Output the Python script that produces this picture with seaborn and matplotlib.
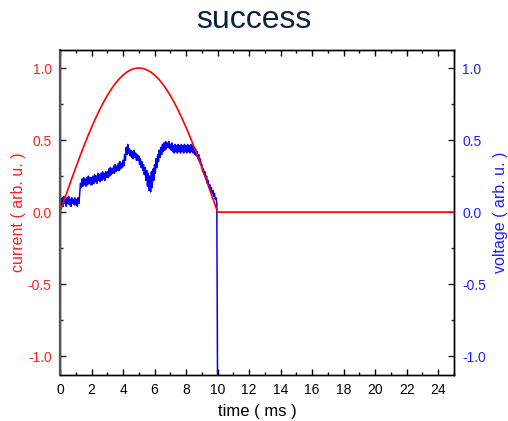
import numpy as np
import pandas as pd
import matplotlib
matplotlib.use("Agg")
import matplotlib.pyplot as plt
import seaborn as sns
from matplotlib.ticker import MultipleLocator

sns.set_style("ticks")
plt.rcParams['font.family'] = ['Liberation Sans', 'DejaVu Sans']
plt.rcParams['axes.unicode_minus'] = False

title = "success"
xlabel = "time ( ms )"
ylabel_left = "current ( arb. u. )"
ylabel_right = "voltage ( arb. u. )"

# current (red): sampled every 0.25 ms from 0 to 10 ms, then zero until 25 ms
current_time = [0.0, 0.25, 0.5, 0.75, 1.0, 1.25, 1.5, 1.75, 2.0, 2.25, 2.5, 2.75,
                3.0, 3.25, 3.5, 3.75, 4.0, 4.25, 4.5, 4.75, 5.0, 5.25, 5.5, 5.75,
                6.0, 6.25, 6.5, 6.75, 7.0, 7.25, 7.5, 7.75, 8.0, 8.25, 8.5, 8.75,
                9.0, 9.25, 9.5, 9.75, 10.0, 25.0]
current_vals = [0.0, 0.0785, 0.1564, 0.2334, 0.3090, 0.3827, 0.4540, 0.5225, 0.5878,
                0.6494, 0.7071, 0.7604, 0.8090, 0.8526, 0.8910, 0.9239, 0.9511, 0.9724,
                0.9877, 0.9969, 1.0, 0.9969, 0.9877, 0.9724, 0.9511, 0.9239, 0.8910,
                0.8526, 0.8090, 0.7604, 0.7071, 0.6494, 0.5878, 0.5225, 0.4540, 0.3827,
                0.3090, 0.2334, 0.1564, 0.0785, 0.0, 0.0]

# voltage (blue): sampled every 0.05 ms from 0 to 10 ms
voltage_step = 0.05
voltage_vals = [
    # 0 - 0.95
    0.02, 0.09, 0.05, 0.10, 0.04, 0.11, 0.06, 0.09, 0.04, 0.10, 0.06, 0.11, 0.05, 0.09, 0.04, 0.10, 0.06, 0.09, 0.05, 0.10,
    # 1 - 1.95
    0.05, 0.09, 0.04, 0.10, 0.06, 0.13, 0.20, 0.17, 0.23, 0.18, 0.24, 0.19, 0.23, 0.18, 0.24, 0.19, 0.25, 0.20, 0.24, 0.19,
    # 2 - 2.95
    0.24, 0.19, 0.25, 0.20, 0.26, 0.21, 0.25, 0.20, 0.27, 0.22, 0.26, 0.21, 0.27, 0.22, 0.28, 0.23, 0.27, 0.22, 0.28, 0.24,
    # 3 - 3.95
    0.28, 0.24, 0.30, 0.25, 0.31, 0.26, 0.30, 0.27, 0.32, 0.27, 0.33, 0.28, 0.32, 0.29, 0.34, 0.29, 0.35, 0.30, 0.34, 0.31,
    # 4 - 4.95
    0.36, 0.32, 0.40, 0.36, 0.45, 0.40, 0.47, 0.41, 0.44, 0.39, 0.43, 0.38, 0.42, 0.37, 0.43, 0.38, 0.41, 0.36, 0.40, 0.36,
    # 5 - 5.95
    0.39, 0.33, 0.37, 0.31, 0.35, 0.29, 0.33, 0.26, 0.31, 0.22, 0.29, 0.18, 0.27, 0.15, 0.25, 0.14, 0.28, 0.17, 0.30, 0.22,
    # 6 - 6.95
    0.33, 0.27, 0.37, 0.31, 0.40, 0.35, 0.43, 0.38, 0.45, 0.40, 0.47, 0.42, 0.48, 0.43, 0.49, 0.44, 0.48, 0.45, 0.49, 0.44,
    # 7 - 7.95
    0.47, 0.43, 0.48, 0.42, 0.46, 0.41, 0.47, 0.42, 0.46, 0.41, 0.47, 0.42, 0.46, 0.41, 0.47, 0.42, 0.46, 0.41, 0.47, 0.42,
    # 8 - 8.95
    0.46, 0.41, 0.47, 0.42, 0.46, 0.41, 0.47, 0.42, 0.46, 0.41, 0.45, 0.40, 0.44, 0.39, 0.42, 0.37, 0.40, 0.35, 0.37, 0.33,
    # 9 - 9.95
    0.33, 0.28, 0.30, 0.26, 0.28, 0.23, 0.25, 0.20, 0.22, 0.17, 0.19, 0.15, 0.17, 0.13, 0.15, 0.11, 0.13, 0.09, 0.10, 0.06,
    # 10
    -1.3,
]
voltage_time = [round(i * voltage_step, 2) for i in range(len(voltage_vals))]

df_cur = pd.DataFrame({"time": current_time, "current": current_vals})
df_vol = pd.DataFrame({"time": voltage_time, "voltage": voltage_vals})

fig = plt.figure(figsize=(5.08, 4.21), dpi=100)
ax = fig.add_axes([60 / 508, 1 - 375 / 421, (454 - 60) / 508, (375 - 50) / 421])
ax2 = ax.twinx()

sns.lineplot(data=df_vol, x="time", y="voltage", ax=ax2, color="#0000ff", lw=1.1,
             estimator=None, sort=False)
sns.lineplot(data=df_cur, x="time", y="current", ax=ax, color="#ff0000", lw=1.2,
             estimator=None, sort=False)

ax.set_zorder(ax2.get_zorder() + 1)
ax.patch.set_visible(False)

ylim = (-1.13, 1.125)
ax.set_xlim(0, 25)
ax.set_ylim(*ylim)
ax2.set_ylim(*ylim)

for a in (ax, ax2):
    a.yaxis.set_major_locator(MultipleLocator(0.5))
    a.yaxis.set_minor_locator(MultipleLocator(0.25))
    a.yaxis.set_major_formatter(matplotlib.ticker.FormatStrFormatter('%.1f'))
ax.xaxis.set_major_locator(MultipleLocator(2))
ax.xaxis.set_minor_locator(MultipleLocator(1))

ax.tick_params(axis='x', which='both', direction='in', top=True, bottom=True,
               labelsize=10, colors='black', pad=6)
ax.tick_params(axis='x', which='major', length=4, width=1)
ax.tick_params(axis='x', which='minor', length=2.5, width=1)
ax.tick_params(axis='y', which='both', direction='in', left=True, right=False,
               labelsize=10, labelcolor='#ff2020', pad=6)
ax.tick_params(axis='y', which='major', length=4, width=1)
ax.tick_params(axis='y', which='minor', length=2.5, width=1)
ax2.tick_params(axis='y', which='both', direction='in', right=True, left=False,
                labelsize=10, labelcolor='#2020ff', pad=6)
ax2.tick_params(axis='y', which='major', length=4, width=1)
ax2.tick_params(axis='y', which='minor', length=2.5, width=1)

for a in (ax, ax2):
    for s in a.spines.values():
        s.set_color('black')
        s.set_linewidth(1.0)
ax.spines['left'].set_color('#555555')
ax.spines['left'].set_linewidth(1.6)

ax.set_xlabel(xlabel, fontsize=12, color='black', labelpad=5)
ax.set_ylabel(ylabel_left, fontsize=11.5, color='#ff2020', labelpad=1)
ax2.set_ylabel(ylabel_right, fontsize=11.5, color='#2020ff', labelpad=5)

fig.text(254 / 508, 1 - 20 / 421, title, ha='center', va='center',
         fontsize=23, color='#0d2240')

fig.savefig("out.png", dpi=100)
